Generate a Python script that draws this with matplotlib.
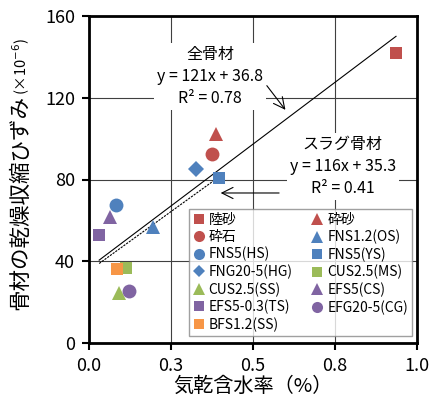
import numpy as np
import matplotlib.pyplot as plt

plt.rcParams['font.family'] = ['Noto Sans CJK JP', 'DejaVu Sans']

# series in Excel order: name, x (air-dry moisture %), y (shrinkage x1e-6)
names = ['陸砂', '砕砂', '砕石', 'FNS1.2(OS)', 'FNS5(HS)', 'FNS5(YS)',
         'FNG20-5(HG)', 'CUS2.5(MS)', 'CUS2.5(SS)', 'EFS5(CS)',
         'EFS5-0.3(TS)', 'EFG20-5(CG)', 'BFS1.2(SS)']
xs = [0.936, 0.387, 0.375, 0.195, 0.082, 0.396, 0.326, 0.113, 0.091,
      0.064, 0.031, 0.122, 0.086]
ys = [141.9, 102.2, 92.5, 56.8, 67.5, 80.7, 85.1, 36.7, 24.5, 61.6,
      52.8, 25.4, 36.2]
markers = ['s', '^', 'o', '^', 'o', 's', 'D', 's', '^', '^', 's', 'o', 's']
red, blue, green, purple, orange = '#C0504D', '#4F81BD', '#9BBB59', '#8064A2', '#F79646'
colors = [red, red, red, blue, blue, blue, blue, green, green, purple,
          purple, purple, orange]

# regression lines (all aggregates / slag aggregates)
fit_all = (121, 36.8)
fit_slag = (116, 35.3)

xticks = [0, 0.25, 0.5, 0.75, 1.0]
xticklabels = ['0.0', '0.3', '0.5', '0.8', '1.0']
yticks = [0, 40, 80, 120, 160]

fig = plt.figure(figsize=(4.35, 4.03), dpi=100)
ax = fig.add_axes([89 / 435, 60 / 403, 328 / 435, 327 / 403])

handles = []
for n, x, y, m, c in zip(names, xs, ys, markers, colors):
    ms = {'s': 9, 'o': 10, 'D': 8, '^': 10}[m]
    h, = ax.plot([x], [y], ls='none', marker=m, color=c, ms=ms,
                 markeredgewidth=0, label=n, zorder=4)
    handles.append(h)

xa = np.array([min(xs), max(xs)])
ax.plot(xa, fit_all[0] * xa + fit_all[1], color='black', lw=0.8, zorder=3)
sx = np.array([min(xs[3:]), max(xs[3:])])
ax.plot(sx, fit_slag[0] * sx + fit_slag[1], color='black', lw=0.8,
        ls=(0, (2, 1)), zorder=3)

ax.set_xlim(0, 1.0)
ax.set_ylim(0, 160)
ax.set_xticks(xticks)
ax.set_xticklabels(xticklabels)
ax.set_yticks(yticks)
ax.tick_params(labelsize=13, direction='out', length=5, width=1.5, pad=5)
ax.grid(True, color='#404040', lw=0.8)
ax.set_axisbelow(True)
for s in ax.spines.values():
    s.set_linewidth(2)

ax.set_xlabel('気乾含水率（%）', fontsize=14.5, labelpad=1)
ylab = fig.text(20 / 435, (403 - 310) / 403, '骨材の乾燥収縮ひずみ', rotation=90,
                fontsize=15.5, ha='center', va='bottom')
fig.canvas.draw()
top = ylab.get_window_extent().y1
fig.text(21 / 435, top / fig.bbox.height, '(×10$^{-6}$)', rotation=90,
         fontsize=10.5, ha='center', va='bottom')

box = dict(fc='white', ec='none', pad=2)
ax.text(0.369, 130.5, '全骨材\ny = 121x + 36.8\nR² = 0.78', fontsize=11.5,
        ha='center', va='center', linespacing=1.4, bbox=box, zorder=5)
ax.text(0.774, 86.5, 'スラグ骨材\ny = 116x + 35.3\nR² = 0.41', fontsize=11.5,
        ha='center', va='center', linespacing=1.4, bbox=box, zorder=5)
arrow = dict(arrowstyle='->', lw=0.8, color='black', mutation_scale=20)
ax.annotate('', xy=(0.604, 113), xytext=(0.537, 127), arrowprops=arrow, zorder=6)
ax.annotate('', xy=(0.393, 73.4), xytext=(0.588, 73.4), arrowprops=arrow, zorder=6)

order = [0, 2, 4, 6, 8, 10, 12, 1, 3, 5, 7, 9, 11]
leg = ax.legend([handles[i] for i in order], [names[i] for i in order],
                ncol=2, loc='lower left', bbox_to_anchor=(0.305, 0.021, 0.68, 0.38),
                mode='expand', fontsize=10, handlelength=0.8, handletextpad=0.3,
                labelspacing=0.22, borderpad=0.3, borderaxespad=0,
                frameon=True, fancybox=False, markerscale=0.8)
leg.get_frame().set_edgecolor('#888888')
leg.get_frame().set_linewidth(1)
leg.set_zorder(7)

fig.savefig('out.png', dpi=100)
